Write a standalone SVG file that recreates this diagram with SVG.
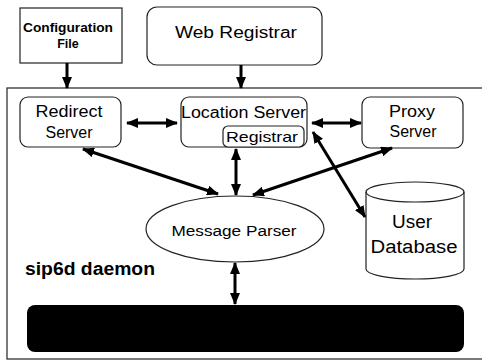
<svg xmlns="http://www.w3.org/2000/svg" width="482" height="362" viewBox="0 0 482 362">
  <style>
    .box { fill: #fff; stroke: #222; stroke-width: 1.2; }
    .lbl { font-family: "Liberation Sans", Arial, sans-serif; fill: #000; }
    .conn { stroke: #000; stroke-width: 3; fill: none; marker-end: url(#head); }
    .both { marker-start: url(#head); }
  </style>
  <defs>
    <marker id="head" viewBox="0 0 12 10" refX="11" refY="5" markerWidth="12" markerHeight="10" markerUnits="userSpaceOnUse" orient="auto-start-reverse">
      <path d="M0,0 L12,5 L0,10 z" fill="#000"/>
    </marker>
  </defs>

  <rect width="482" height="362" fill="#fff"/>

  <!-- daemon boundary -->
  <g id="daemon">
    <rect x="7" y="88" width="480" height="271" fill="none" stroke="#222" stroke-width="1.2"/>
    <text class="lbl" x="25" y="275" font-size="18" font-weight="bold" textLength="130" lengthAdjust="spacingAndGlyphs">sip6d daemon</text>
  </g>

  <g id="config-file">
    <rect class="box" x="20" y="8" width="102" height="55"/>
    <text class="lbl" x="68" y="32" font-size="12.5" font-weight="bold" text-anchor="middle" textLength="90" lengthAdjust="spacingAndGlyphs">Configuration</text>
    <text class="lbl" x="68" y="48" font-size="12.5" font-weight="bold" text-anchor="middle">File</text>
  </g>

  <g id="web-registrar">
    <rect class="box" x="147" y="7" width="175" height="58" rx="10"/>
    <text class="lbl" x="236" y="38" font-size="16" text-anchor="middle" textLength="122" lengthAdjust="spacingAndGlyphs">Web Registrar</text>
  </g>

  <g id="redirect-server">
    <rect class="box" x="20" y="97" width="101" height="50" rx="8"/>
    <text class="lbl" x="69" y="117" font-size="16" text-anchor="middle" textLength="67" lengthAdjust="spacingAndGlyphs">Redirect</text>
    <text class="lbl" x="69" y="138" font-size="16" text-anchor="middle" textLength="47" lengthAdjust="spacingAndGlyphs">Server</text>
  </g>

  <g id="location-server">
    <rect class="box" x="181" y="97" width="126" height="50" rx="8"/>
    <text class="lbl" x="181" y="118" font-size="16" textLength="125" lengthAdjust="spacingAndGlyphs">Location Server</text>
    <rect class="box" x="223" y="126" width="81" height="21" rx="5"/>
    <text class="lbl" x="226" y="142" font-size="15" textLength="72" lengthAdjust="spacingAndGlyphs">Registrar</text>
  </g>

  <g id="proxy-server">
    <rect class="box" x="362" y="97" width="101" height="51" rx="8"/>
    <text class="lbl" x="412" y="117" font-size="16" text-anchor="middle" textLength="46" lengthAdjust="spacingAndGlyphs">Proxy</text>
    <text class="lbl" x="413" y="137" font-size="16" text-anchor="middle" textLength="47" lengthAdjust="spacingAndGlyphs">Server</text>
  </g>

  <g id="message-parser">
    <ellipse class="box" cx="235" cy="229" rx="89" ry="33"/>
    <text class="lbl" x="234" y="236" font-size="15.5" text-anchor="middle" textLength="125" lengthAdjust="spacingAndGlyphs">Message Parser</text>
  </g>

  <g id="user-database">
    <path class="box" d="M366,192 A49,10 0 0 1 464,192 L464,269 A49,10 0 0 1 366,269 Z"/>
    <path d="M366,192 A49,10 0 0 0 464,192" fill="none" stroke="#222" stroke-width="1.2"/>
    <text class="lbl" x="412" y="228" font-size="18" text-anchor="middle" textLength="40" lengthAdjust="spacingAndGlyphs">User</text>
    <text class="lbl" x="414" y="253" font-size="18" text-anchor="middle" textLength="87" lengthAdjust="spacingAndGlyphs">Database</text>
  </g>

  <g id="network-layer">
    <rect x="27" y="305" width="437" height="47" rx="8" fill="#000"/>
  </g>

  <g id="connectors">
    <line class="conn" x1="67" y1="63" x2="67" y2="88"/>
    <line class="conn" x1="241" y1="65" x2="241" y2="88"/>
    <line class="conn both" x1="127" y1="123" x2="177" y2="123"/>
    <line class="conn both" x1="312" y1="123" x2="361" y2="123"/>
    <line class="conn both" x1="83" y1="149" x2="218" y2="194"/>
    <line class="conn both" x1="236" y1="149" x2="236" y2="195"/>
    <line class="conn both" x1="392" y1="148" x2="253" y2="195"/>
    <line class="conn both" x1="313" y1="132" x2="365" y2="217"/>
    <line class="conn both" x1="235" y1="263" x2="235" y2="304"/>
  </g>
</svg>
